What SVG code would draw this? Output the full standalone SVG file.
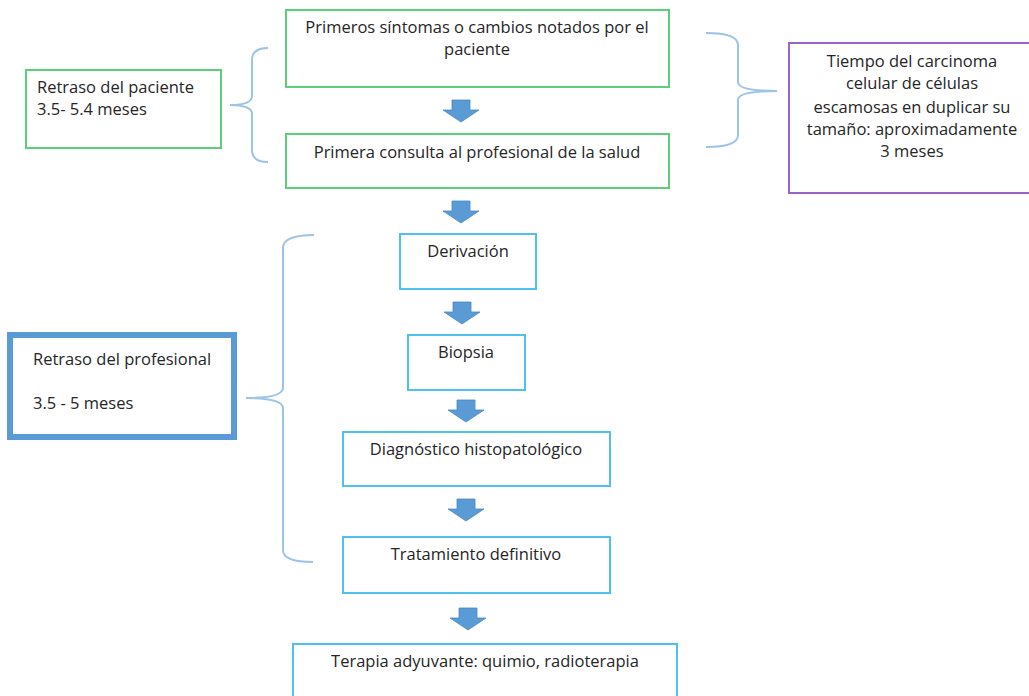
<svg xmlns="http://www.w3.org/2000/svg" width="1029" height="696" viewBox="0 0 1029 696">
<style>
  text { font-family: "Open Sans", "Liberation Sans", Arial, sans-serif; font-size: 16.5px; fill: #262626; }
  .c { text-anchor: middle; }
  .green { fill: #ffffff; stroke: #5ccf7b; stroke-width: 2; }
  .cyan { fill: #ffffff; stroke: #4fc1ee; stroke-width: 2; }
  .purple { fill: #ffffff; stroke: #9b62c9; stroke-width: 2; }
  .thick { fill: #ffffff; stroke: #5b9bd5; stroke-width: 6; }
  .brace { fill: none; stroke: #9dc3e6; stroke-width: 2; }
  .arrow { fill: #5b9bd5; stroke: #4a89c2; stroke-width: 0.8; }
</style>
<defs>
  <path id="blk" d="M-9,0 H9 V10 H18 L0,22 L-18,10 H-9 Z"/>
</defs>
<rect width="1029" height="696" fill="#ffffff"/>

<g id="connectors">
  <use href="#blk" class="arrow" x="461" y="100"/>
  <use href="#blk" class="arrow" x="461" y="201"/>
  <use href="#blk" class="arrow" x="462" y="302"/>
  <use href="#blk" class="arrow" x="466" y="400"/>
  <use href="#blk" class="arrow" x="466" y="499"/>
  <use href="#blk" class="arrow" x="468" y="608"/>
  <path class="brace" d="M268,48 Q252,48 252,60 V96 Q252,105 230,105 Q252,105 252,114 V150 Q252,162 268,162"/>
  <path class="brace" d="M706,33 Q738,33 738,45 V82 Q738,91 777,91 Q738,91 738,100 V135 Q738,147 706,147"/>
  <path class="brace" d="M314,235 Q283,235 283,248 V388 Q283,398 246,398 Q283,398 283,408 V550 Q283,562 313,562"/>
</g>

<g id="n-sintomas">
  <rect class="green" x="286" y="10" width="383" height="77"/>
  <text class="c" x="477" y="33">Primeros síntomas o cambios notados por el</text>
  <text class="c" x="477" y="55">paciente</text>
</g>
<g id="n-consulta">
  <rect class="green" x="286" y="134" width="383" height="54"/>
  <text class="c" x="477" y="158">Primera consulta al profesional de la salud</text>
</g>
<g id="n-retraso-paciente">
  <rect class="green" x="26" y="70" width="195" height="78"/>
  <text x="37" y="93">Retraso del paciente</text>
  <text x="37" y="115">3.5- 5.4 meses</text>
</g>
<g id="n-tiempo">
  <rect class="purple" x="789" y="43" width="245" height="150"/>
  <text class="c" x="912" y="67">Tiempo del carcinoma</text>
  <text class="c" x="912" y="89">celular de células</text>
  <text class="c" x="912" y="113">escamosas en duplicar su</text>
  <text class="c" x="912" y="135">tamaño: aproximadamente</text>
  <text class="c" x="912" y="157">3 meses</text>
</g>
<g id="n-derivacion">
  <rect class="cyan" x="400" y="234" width="136" height="55"/>
  <text class="c" x="468" y="257">Derivación</text>
</g>
<g id="n-biopsia">
  <rect class="cyan" x="408" y="335" width="117" height="55"/>
  <text class="c" x="466" y="358">Biopsia</text>
</g>
<g id="n-diagnostico">
  <rect class="cyan" x="343" y="432" width="267" height="54"/>
  <text class="c" x="476" y="455">Diagnóstico histopatológico</text>
</g>
<g id="n-tratamiento">
  <rect class="cyan" x="343" y="537" width="267" height="56"/>
  <text class="c" x="476" y="560">Tratamiento definitivo</text>
</g>
<g id="n-terapia">
  <rect class="cyan" x="293" y="644" width="384" height="60"/>
  <text class="c" x="485" y="667">Terapia adyuvante: quimio, radioterapia</text>
</g>
<g id="n-retraso-profesional">
  <rect class="thick" x="10" y="335" width="224" height="102"/>
  <text x="33" y="365">Retraso del profesional</text>
  <text x="33" y="409">3.5 - 5 meses</text>
</g>
</svg>
